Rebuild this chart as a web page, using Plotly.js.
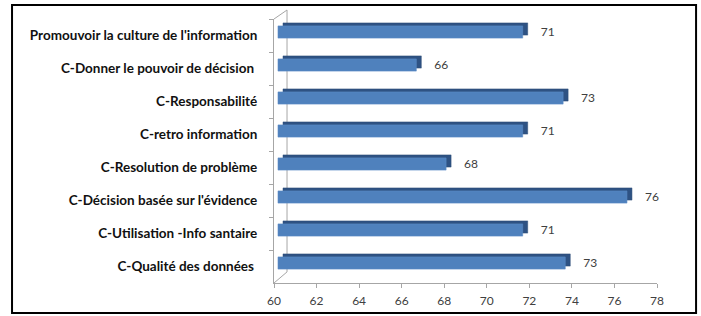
<!DOCTYPE html>
<html><head><meta charset="utf-8">
<script src="https://cdn.plot.ly/plotly-3.0.1.min.js"></script>
<style>html,body{margin:0;padding:0;background:#fff}#c{width:701px;height:316px}</style>
</head><body><div id="c"></div>
<script>
const categories = [
  "Promouvoir la culture de l'information",
  "C-Donner le pouvoir de décision ",
  "C-Responsabilité",
  "C-retro information",
  "C-Resolution de problème",
  "C-Décision basée sur l'évidence",
  "C-Utilisation -Info santaire",
  "C-Qualité des données "
];
const values = [71.5, 66.5, 73.4, 71.5, 67.9, 76.4, 71.5, 73.5];
const valueLabels = ["71", "66", "73", "71", "68", "76", "71", "73"];
const xTicks = [60, 62, 64, 66, 68, 70, 72, 74, 76, 78];

const base = 60;
const lengths = values.map(v => v - base);
const pxPerUnit = 383 / 18;
const pxPerCat = 264 / 8;
function xr(dx){ return [60 - dx/pxPerUnit, 78 - dx/pxPerUnit]; }
function yr(dy){ return [7.5 + dy/pxPerCat, -0.5 + dy/pxPerCat]; }

const FONT = 'Lato, "DejaVu Sans", sans-serif';
const hidden = {visible:false, fixedrange:true};
const traces = [
  {type:'scatter', mode:'markers', y:categories, x:values, marker:{opacity:0, size:1}, hoverinfo:'skip'},
  {type:'bar', orientation:'h', y:categories, x:lengths, base:base,
   xaxis:'x2', yaxis:'y2', width:0.37,
   marker:{color:'#2E5283', line:{color:'#2A4A75', width:0.5}}, hoverinfo:'skip'},
  {type:'bar', orientation:'h', y:categories, x:lengths, base:base,
   xaxis:'x3', yaxis:'y3', width:0.37,
   marker:{color:'#4F81BD', line:{color:'#5B8CC6', width:0.6}}, hoverinfo:'skip'},
  {type:'scatter', mode:'text', y:categories, x:values, text:valueLabels, cliponaxis:false,
   xaxis:'x4', yaxis:'y4', textposition:'middle right',
   textfont:{family:FONT, size:12, color:'#404040'}, hoverinfo:'skip'}
];

const layout = {
  width:701, height:316,
  margin:{l:274, r:44, t:19, b:33},
  paper_bgcolor:'#fff', plot_bgcolor:'rgba(0,0,0,0)',
  showlegend:false, barmode:'overlay',
  xaxis:{range:[60,78], tickvals:xTicks, ticktext:xTicks.map(String), showgrid:false, zeroline:false,
         showline:true, linecolor:'#a6a6a6', linewidth:1, ticks:'outside', ticklen:4, tickcolor:'#a6a6a6',
         ticklabelstandoff:3,
         tickfont:{family:FONT, size:12, color:'#404040'}, fixedrange:true},
  yaxis:{type:'category', categoryorder:'array', categoryarray:categories, range:[7.5,-0.5],
         showgrid:false, zeroline:false, showline:true, linecolor:'#a6a6a6', linewidth:1,
         ticks:'outside', ticklen:4, tickcolor:'#a6a6a6', tickson:'boundaries', ticklabelstandoff:13,
         tickfont:{family:FONT, size:13.5, color:'#111', weight:'bold'}, fixedrange:true},
  xaxis2:Object.assign({overlaying:'x', range:xr(9)}, hidden),
  yaxis2:Object.assign({overlaying:'y', type:'category', categoryarray:categories, categoryorder:'array', range:yr(6.5)}, hidden),
  xaxis3:Object.assign({overlaying:'x', range:xr(4)}, hidden),
  yaxis3:Object.assign({overlaying:'y', type:'category', categoryarray:categories, categoryorder:'array', range:yr(3.5)}, hidden),
  xaxis4:Object.assign({overlaying:'x', range:xr(22)}, hidden),
  yaxis4:Object.assign({overlaying:'y', type:'category', categoryarray:categories, categoryorder:'array', range:yr(3)}, hidden),
  shapes:[
    {type:'line', xref:'paper', yref:'paper', x0:0.034, x1:0.034, y0:0.042, y1:1.034, line:{color:'#a6a6a6', width:1}, layer:'below'},
    {type:'line', xref:'paper', yref:'paper', x0:0, x1:0.034, y0:1, y1:1.034, line:{color:'#a6a6a6', width:1}, layer:'below'},
    {type:'line', xref:'paper', yref:'paper', x0:0, x1:0.034, y0:0, y1:0.042, line:{color:'#a6a6a6', width:1}, layer:'below'},
    {type:'rect', xref:'paper', yref:'paper', x0:-0.684, x1:1.102, y0:-0.114, y1:1.053, line:{color:'#000', width:2}, fillcolor:'rgba(0,0,0,0)'}
  ]
};
Plotly.newPlot('c', traces, layout, {staticPlot:true, displayModeBar:false});
</script></body></html>
